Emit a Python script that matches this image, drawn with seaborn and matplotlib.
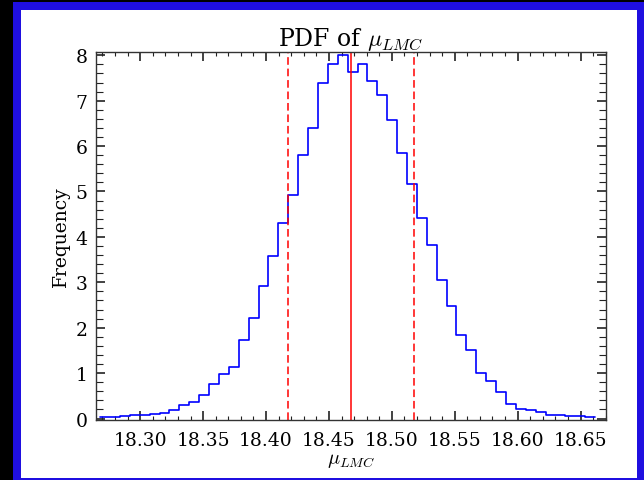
import numpy as np
import pandas as pd
import matplotlib
matplotlib.use("Agg")
import matplotlib.pyplot as plt
import seaborn as sns
from matplotlib.patches import Rectangle

# ---- data ----
bin_lo = 18.2682
bin_hi = 18.6615
n_bins = 50
heights = [0.04, 0.04, 0.05, 0.07, 0.07, 0.09, 0.13, 0.19, 0.29, 0.36,
           0.52, 0.76, 0.98, 1.13, 1.74, 2.21, 2.92, 3.58, 4.31, 4.92,
           5.80, 6.39, 7.40, 7.81, 8.01, 7.63, 7.81, 7.44, 7.13, 6.57,
           5.84, 5.17, 4.41, 3.82, 3.04, 2.47, 1.85, 1.50, 1.01, 0.82,
           0.59, 0.33, 0.22, 0.18, 0.14, 0.08, 0.08, 0.05, 0.05, 0.03]
mean_val = 18.4679
low_val = 18.4176
high_val = 18.5179
x_ticks = [18.30, 18.35, 18.40, 18.45, 18.50, 18.55, 18.60, 18.65]
y_ticks = [0, 1, 2, 3, 4, 5, 6, 7, 8]
title_text = r"PDF of $\mu_{LMC}$"
xlabel_text = r"$\mu_{LMC}$"
ylabel_text = "Frequency"

edges = np.linspace(bin_lo, bin_hi, n_bins + 1)
centers = 0.5 * (edges[:-1] + edges[1:])
df = pd.DataFrame({"x": centers, "w": heights})

sns.set_style("white")
plt.rcParams["font.family"] = ["DejaVu Serif"]
plt.rcParams["mathtext.fontset"] = "cm"
plt.rcParams["text.color"] = "black"
plt.rcParams["axes.labelcolor"] = "black"
plt.rcParams["xtick.color"] = "black"
plt.rcParams["ytick.color"] = "black"

fig = plt.figure(figsize=(6.44, 4.81), dpi=100, facecolor="black")
# window-like frame
fig.patches.append(Rectangle((13 / 644, 0), 1 - 13 / 644, 1 - 3 / 481,
                             transform=fig.transFigure, facecolor="#1f0fe0",
                             edgecolor="none", zorder=-2))
fig.patches.append(Rectangle((21 / 644, 2 / 481), (637 - 21) / 644, (479 - 11) / 481,
                             transform=fig.transFigure, facecolor="white",
                             edgecolor="none", zorder=-1))

ax = fig.add_axes([95.7 / 644, 1 - 420.5 / 481, (605.7 - 95.7) / 644, (420.5 - 53.3) / 481])
ax.set_facecolor("white")

sns.histplot(data=df, x="x", weights="w", bins=n_bins, binrange=(bin_lo, bin_hi),
             element="step", fill=False,
             color="#0000ff", linewidth=1.2, stat="count", ax=ax)

ax.axvline(mean_val, color="#ff0000", lw=1.1)
ax.axvline(low_val, color="#ff0000", lw=1.1, dashes=(5, 2.5))
ax.axvline(high_val, color="#ff0000", lw=1.1, dashes=(5, 2.5))

ax.set_xlim(18.2646, 18.6656)
ax.set_ylim(-0.022, 8.066)
ax.set_xticks(x_ticks)
ax.set_xticklabels([f"{v:.2f}" for v in x_ticks])
ax.set_yticks(y_ticks)
ax.set_xticks(np.arange(18.27, 18.67, 0.01), minor=True)
ax.set_yticks(np.arange(0, 8.05, 0.2), minor=True)

ax.tick_params(which="both", direction="in", top=True, right=True, bottom=True, left=True,
               labelsize=13.5, color="#222222", labelcolor="black")
ax.tick_params(which="major", length=6.5, width=1.2, pad=8)
ax.tick_params(axis="x", which="minor", length=3.2, width=0.8)
ax.tick_params(axis="y", which="minor", length=4.8, width=0.8)
ax.tick_params(axis="y", which="major", pad=6)
for s in ax.spines.values():
    s.set_visible(True)
    s.set_color("#333333")
    s.set_linewidth(1.0)

ax.set_title(title_text, fontsize=17, pad=2, color="black")
ax.set_xlabel(xlabel_text, fontsize=14.5, labelpad=1, color="black")
ax.set_ylabel(ylabel_text, fontsize=13.5, labelpad=4, color="black")

fig.savefig("out.png", dpi=100, facecolor=fig.get_facecolor())
